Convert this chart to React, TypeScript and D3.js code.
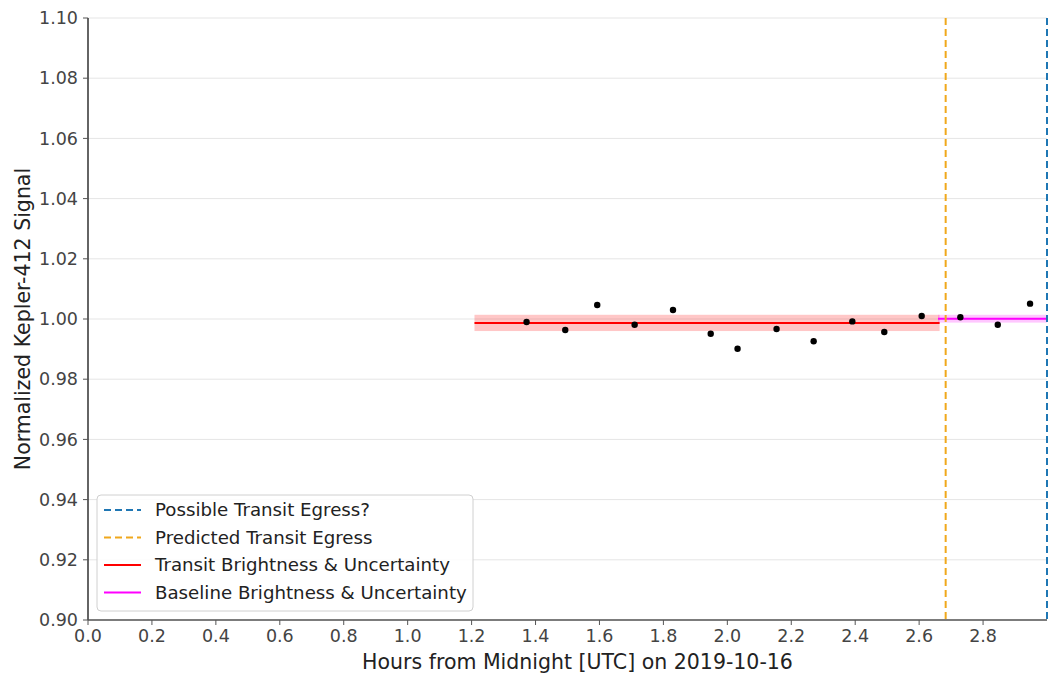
import React from "react";
import * as d3 from "d3";

// Observation times (hours after midnight UTC) and normalized flux
const obsHours = [1.372, 1.493, 1.593, 1.710, 1.830, 1.948, 2.032, 2.154, 2.270, 2.391, 2.491, 2.608, 2.729, 2.846, 2.947];
const obsFlux = [0.9990, 0.99635, 1.00465, 0.9981, 1.0030, 0.9951, 0.9901, 0.9967, 0.9926, 0.9992, 0.9957, 1.0010, 1.0006, 0.9981, 1.0051];

// Mean brightness segments: [start hour, end hour, level, uncertainty]
const transitSegment = [1.209, 2.664, 0.9987, 0.0027];
const baselineSegment = [2.659, 3.0, 1.0001, 0.0013];

// Egress markers
const predictedEgress = 2.683;
const possibleEgress = 3.0;

const xTicks = [0.0, 0.2, 0.4, 0.6, 0.8, 1.0, 1.2, 1.4, 1.6, 1.8, 2.0, 2.2, 2.4, 2.6, 2.8];
const yTicks = [0.9, 0.92, 0.94, 0.96, 0.98, 1.0, 1.02, 1.04, 1.06, 1.08, 1.1];

const legendItems = [
  { label: "Possible Transit Egress?", color: "#1f77b4", dashed: true },
  { label: "Predicted Transit Egress", color: "#f0a81c", dashed: true },
  { label: "Transit Brightness & Uncertainty", color: "#ff0000", dashed: false },
  { label: "Baseline Brightness & Uncertainty", color: "#ff00ff", dashed: false },
];

const W = 1050;
const H = 677;
const left = 88;
const right = 1047;
const top = 18;
const bottom = 620;
const FONT = "'DejaVu Sans', sans-serif";

export default function App() {
  const x = d3.scaleLinear().domain([0, 3.0]).range([left, right]);
  const y = d3.scaleLinear().domain([0.9, 1.1]).range([bottom, top]);

  const [tS, tE, tL, tU] = transitSegment;
  const [bS, bE, bL, bU] = baselineSegment;

  return (
    <svg
      width={W}
      height={H}
      style={{ position: "absolute", left: 0, top: 0, background: "#fff" }}
      fontFamily={FONT}
    >
      {/* horizontal grid */}
      {yTicks.map((t) => (
        <line key={"g" + t} x1={left} x2={right} y1={y(t)} y2={y(t)} stroke="#e5e5e5" strokeWidth={1} />
      ))}

      {/* uncertainty bands */}
      <rect x={x(tS)} width={x(tE) - x(tS)} y={y(tL + tU)} height={y(tL - tU) - y(tL + tU)} fill="#ff0000" fillOpacity={0.22} />
      <rect x={x(bS)} width={x(bE) - x(bS)} y={y(bL + bU)} height={y(bL - bU) - y(bL + bU)} fill="#ff00ff" fillOpacity={0.22} />

      {/* mean brightness lines */}
      <line x1={x(tS)} x2={x(tE)} y1={y(tL)} y2={y(tL)} stroke="#ff0000" strokeWidth={2} />
      <line x1={x(bS)} x2={x(bE)} y1={y(bL)} y2={y(bL)} stroke="#ff00ff" strokeWidth={2} />

      {/* data points */}
      {obsHours.map((h, i) => (
        <circle key={"p" + i} cx={x(h)} cy={y(obsFlux[i])} r={3.2} fill="#000" />
      ))}

      {/* egress markers */}
      <line x1={x(predictedEgress)} x2={x(predictedEgress)} y1={top} y2={bottom} stroke="#f0a81c" strokeWidth={2} strokeDasharray="7,4" />
      <line x1={x(possibleEgress)} x2={x(possibleEgress)} y1={top} y2={bottom} stroke="#1f77b4" strokeWidth={2} strokeDasharray="7,4" />

      {/* spines */}
      <line x1={left} x2={left} y1={top} y2={bottom} stroke="#111" strokeWidth={1.3} />
      <line x1={left} x2={right} y1={bottom} y2={bottom} stroke="#555" strokeWidth={1.3} />

      {/* y ticks */}
      {yTicks.map((t) => (
        <g key={"yt" + t}>
          <line x1={left - 5} x2={left} y1={y(t)} y2={y(t)} stroke="#555" strokeWidth={1} />
          <text x={left - 10} y={y(t)} dy="0.35em" textAnchor="end" fontSize={17.5} fill="#444">
            {d3.format(".2f")(t)}
          </text>
        </g>
      ))}

      {/* x ticks */}
      {xTicks.map((t) => (
        <g key={"xt" + t}>
          <line x1={x(t)} x2={x(t)} y1={bottom} y2={bottom + 5} stroke="#555" strokeWidth={1} />
          <text x={x(t)} y={bottom + 22} textAnchor="middle" fontSize={17.5} fill="#444">
            {d3.format(".1f")(t)}
          </text>
        </g>
      ))}

      {/* axis titles */}
      <text x={(left + right) / 2 + 10} y={669} textAnchor="middle" fontSize={20.5} fill="#222">
        Hours from Midnight [UTC] on 2019-10-16
      </text>
      <text transform={`translate(30, ${(top + bottom) / 2}) rotate(-90)`} textAnchor="middle" fontSize={20.5} fill="#222">
        Normalized Kepler-412 Signal
      </text>

      {/* legend */}
      <g>
        <rect x={97} y={495} width={376} height={116} rx={4} fill="#fff" fillOpacity={0.85} stroke="#d0d0d0" strokeWidth={1} />
        {legendItems.map((it, i) => {
          const ly = 510 + i * 27.5;
          return (
            <g key={"l" + i}>
              <line x1={104} x2={141} y1={ly} y2={ly} stroke={it.color} strokeWidth={2} strokeDasharray={it.dashed ? "7,4" : undefined} />
              <text x={155} y={ly} dy="0.35em" fontSize={18.2} fill="#222">
                {it.label}
              </text>
            </g>
          );
        })}
      </g>
    </svg>
  );
}
